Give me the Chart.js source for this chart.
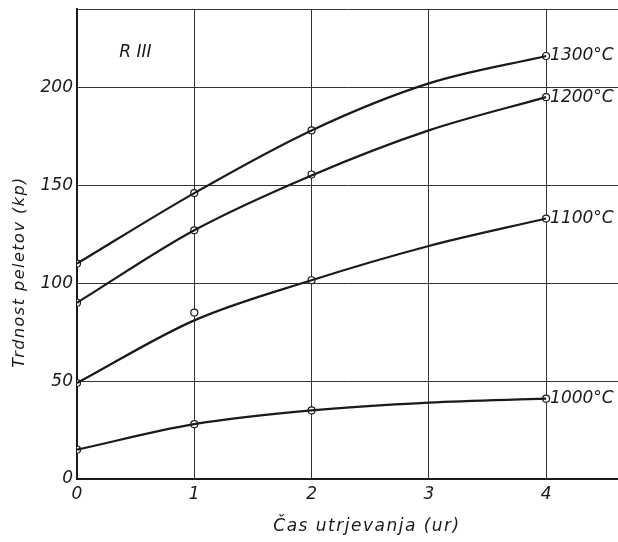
<!DOCTYPE html>
<html>
<head>
  <meta charset="UTF-8">
  <title>Trdnost peletov – R III</title>
  <script src="https://cdn.jsdelivr.net/npm/chart.js"></script>
  <style>
    html, body {
      margin: 0;
      padding: 0;
      background: #fff;
    }

    #wrap {
      position: relative;
      width: 618px;
      height: 542px;
      overflow: hidden;
    }
  </style>
</head>
<body>
  <div id="wrap">
    <!-- a few px wider than the page so the grid runs off the right edge like the scan -->
    <canvas id="pelletChart" width="624" height="542"></canvas>
  </div>

  <script>
    // fitted curves, read at every hour
    const curveHours = [0, 1, 2, 3, 4];
    const curve1300 = [110, 146, 178, 202, 216];
    const curve1200 = [90, 127, 155, 178, 195];
    const curve1100 = [49, 81, 101.5, 119, 133];
    const curve1000 = [15, 28, 35, 39, 41];

    // measured points (open circles)
    const pointHours = [0, 1, 2, 4];
    const points1300 = [110, 146, 178, 216];
    const points1200 = [90, 127, 155.5, 195];
    const points1100 = [49, 85, 101.5, 133];
    const points1000 = [15, 28, 35, 41];

    const seriesLabels = ["1300°C", "1200°C", "1100°C", "1000°C"];
    const xTicks = [0, 1, 2, 3, 4];
    const yTicks = [0, 50, 100, 150, 200];
    const xTitle = "Čas utrjevanja (ur)";
    const yTitle = "Trdnost peletov (kp)";

    const ink = "#1a1a1a";
    const fontFam = "'DejaVu Sans', 'Liberation Sans', sans-serif";

    const toXY = (xs, ys) => ys.map((y, i) => ({ x: xs[i], y: y }));

    const curves = [curve1300, curve1200, curve1100, curve1000];
    const measured = [points1300, points1200, points1100, points1000];

    const datasets = [];
    curves.forEach((c, i) => {
      datasets.push({
        label: seriesLabels[i],
        data: toXY(curveHours, c),
        showLine: true,
        borderColor: ink,
        borderWidth: 2.2,
        pointRadius: 0,
        cubicInterpolationMode: "monotone",
        endLabel: true
      });
    });
    measured.forEach((p, i) => {
      datasets.push({
        label: seriesLabels[i] + " meritve",
        data: toXY(pointHours, p),
        showLine: false,
        pointRadius: 3.5,
        pointBorderWidth: 1.2,
        pointBorderColor: ink,
        pointBackgroundColor: "#fff"
      });
    });

    // curve labels, "R III" and the two axis titles
    const annotations = {
      id: "annotations",
      afterDatasetsDraw(chart) {
        const { ctx, scales } = chart;
        ctx.save();
        ctx.fillStyle = ink;
        ctx.font = "italic 17px " + fontFam;
        ctx.textBaseline = "middle";
        ctx.textAlign = "left";
        chart.data.datasets.forEach(ds => {
          if (!ds.endLabel) return;
          const last = ds.data[ds.data.length - 1];
          ctx.fillText(ds.label, scales.x.getPixelForValue(last.x) + 4, scales.y.getPixelForValue(last.y));
        });
        ctx.fillText("R III", scales.x.getPixelForValue(0.36), scales.y.getPixelForValue(218));

        ctx.textAlign = "center";
        ctx.letterSpacing = "1.5px";
        ctx.fillText(xTitle, 367, 527);
        ctx.translate(20, 272);
        ctx.rotate(-Math.PI / 2);
        ctx.font = "italic 16px " + fontFam;
        ctx.letterSpacing = "1.5px";
        ctx.fillText(yTitle, 0, 0);
        ctx.restore();
      }
    };

    new Chart(document.getElementById("pelletChart"), {
      type: "scatter",
      data: { datasets: datasets },
      options: {
        responsive: false,
        animation: false,
        layout: { padding: { top: 9, right: 0, left: 0, bottom: 0 } },
        plugins: {
          legend: { display: false },
          tooltip: { enabled: false }
        },
        scales: {
          x: {
            type: "linear",
            min: 0,
            max: 4.62,
            afterBuildTicks: s => { s.ticks = xTicks.map(v => ({ value: v })); },
            afterFit: s => { s.height = 63; s.paddingRight = 0; s.paddingLeft = 0; },
            grid: { color: "#333", lineWidth: 1, drawTicks: false },
            border: { color: ink, width: 2 },
            ticks: {
              padding: 5,
              color: ink,
              font: { family: fontFam, size: 17, style: "italic" }
            }
          },
          y: {
            min: 0,
            max: 240,
            afterBuildTicks: s => { s.ticks = yTicks.concat([240]).map(v => ({ value: v })); },
            afterFit: s => { s.width = 77; s.paddingTop = 0; s.paddingBottom = 0; },
            grid: { color: "#333", lineWidth: 1, drawTicks: false },
            border: { color: ink, width: 2 },
            ticks: {
              padding: 4,
              color: ink,
              font: { family: fontFam, size: 17, style: "italic" },
              callback: v => (v === 240 ? "" : v)
            }
          }
        }
      },
      plugins: [annotations]
    });
  </script>
</body>
</html>
